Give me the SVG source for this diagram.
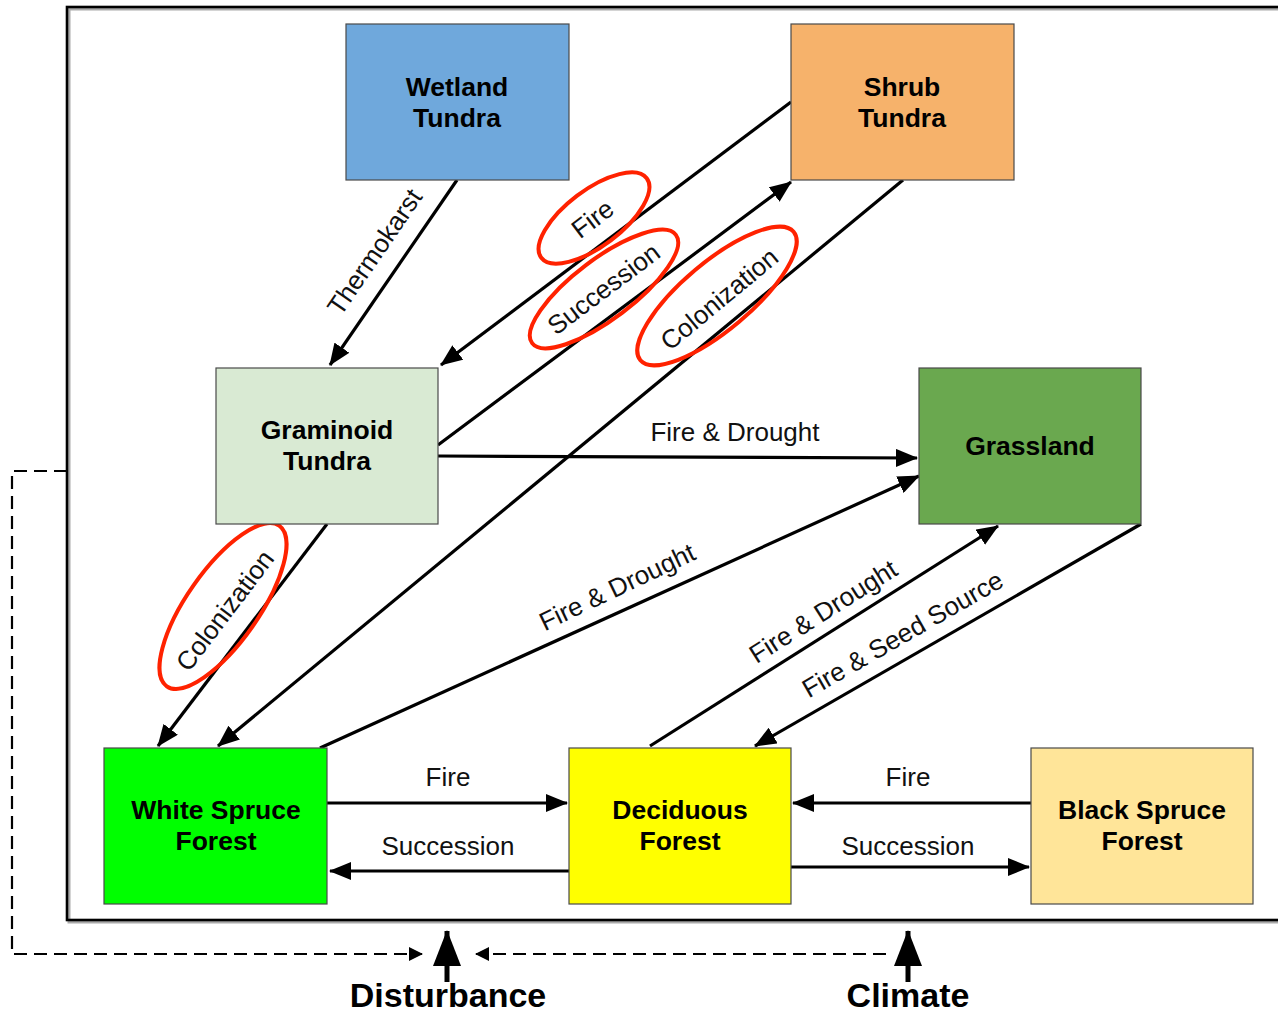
<svg xmlns="http://www.w3.org/2000/svg" width="1278" height="1013" viewBox="0 0 1278 1013">
<defs>
<marker id="ah" markerUnits="userSpaceOnUse" markerWidth="22" markerHeight="18" viewBox="0 0 22 18" refX="21" refY="9" orient="auto">
<path d="M0,0 L22,9 L0,18 z" fill="#000"/>
</marker>
<marker id="ahs" markerUnits="userSpaceOnUse" markerWidth="14" markerHeight="14" viewBox="0 0 14 14" refX="13" refY="7" orient="auto">
<path d="M0,0 L14,7 L0,14 z" fill="#000"/>
</marker>
<marker id="ahb" markerUnits="userSpaceOnUse" markerWidth="36" markerHeight="28" viewBox="0 0 36 28" refX="35" refY="14" orient="auto">
<path d="M0,0 L36,14 L0,28 z" fill="#000"/>
</marker>
</defs>
<style>
.box{stroke:#4a4a4a;stroke-width:1.2}
.nt{font-family:"Liberation Sans",Arial,sans-serif;font-weight:bold;font-size:26.5px;fill:#000;text-anchor:middle}
.lb{font-family:"Liberation Sans",Arial,sans-serif;font-size:26px;fill:#111;text-anchor:middle}
.big{font-family:"Liberation Sans",Arial,sans-serif;font-weight:bold;font-size:34px;fill:#000;text-anchor:middle}
.c{stroke:#000;stroke-width:3.2;fill:none;marker-end:url(#ah)}
.d{stroke:#000;stroke-width:2.2;fill:none;stroke-dasharray:13 7}
.ring{stroke:#ff2200;stroke-width:4;fill:none}
</style>
<rect x="0" y="0" width="1278" height="1013" fill="#fff"/>
<rect x="69" y="9" width="1230" height="913" fill="none" stroke="#aaa" stroke-width="3"/>
<rect x="67" y="7" width="1230" height="913" fill="none" stroke="#000" stroke-width="2.6"/>

<g id="connectors">
<line class="c" x1="457" y1="180" x2="330" y2="365"/>
<line class="c" x1="791" y1="102" x2="441" y2="365"/>
<line class="c" x1="438" y1="445" x2="791" y2="182"/>
<line class="c" x1="903" y1="180" x2="218" y2="746"/>
<line class="c" x1="438" y1="456" x2="917" y2="458"/>
<line class="c" x1="320" y1="748" x2="919" y2="476"/>
<line class="c" x1="650" y1="746" x2="998" y2="526"/>
<line class="c" x1="1141" y1="524" x2="755" y2="746"/>
<line class="c" x1="327" y1="524" x2="158" y2="746"/>
<line class="c" x1="327" y1="803" x2="567" y2="803"/>
<line class="c" x1="569" y1="871" x2="330" y2="871"/>
<line class="c" x1="1031" y1="803" x2="793" y2="803"/>
<line class="c" x1="791" y1="867" x2="1029" y2="867"/>
<path class="d" d="M67,471 H12 V954 H422" marker-end="url(#ahs)"/>
<path class="d" d="M886,954 H476" marker-end="url(#ahs)"/>
<line stroke="#000" stroke-width="5" x1="447" y1="982" x2="447" y2="931" marker-end="url(#ahb)"/>
<line stroke="#000" stroke-width="5" x1="908" y1="982" x2="908" y2="931" marker-end="url(#ahb)"/>

<text class="lb" transform="translate(382,257) rotate(-55.5)">Thermokarst</text>
<text class="lb" transform="translate(598,226) rotate(-37)">Fire</text>
<text class="lb" transform="translate(609,296) rotate(-37)">Succession</text>
<text class="lb" transform="translate(725,306) rotate(-39.6)">Colonization</text>
<text class="lb" transform="translate(232,616) rotate(-52.7)">Colonization</text>
<text class="lb" x="735" y="441">Fire &amp; Drought</text>
<text class="lb" transform="translate(621,595) rotate(-25.5)">Fire &amp; Drought</text>
<text class="lb" transform="translate(828,619) rotate(-32.3)">Fire &amp; Drought</text>
<text class="lb" transform="translate(907,642) rotate(-29.9)">Fire &amp; Seed Source</text>
<text class="lb" x="448" y="786">Fire</text>
<text class="lb" x="448" y="855">Succession</text>
<text class="lb" x="908" y="786">Fire</text>
<text class="lb" x="908" y="855">Succession</text>

<ellipse class="ring" cx="594" cy="218" rx="66" ry="28" transform="rotate(-37 594 218)"/>
<ellipse class="ring" cx="604" cy="289" rx="90" ry="30" transform="rotate(-37 604 289)"/>
<ellipse class="ring" cx="717" cy="296" rx="100" ry="34" transform="rotate(-40 717 296)"/>
<ellipse class="ring" cx="223" cy="606" rx="98" ry="36" transform="rotate(-55 223 606)"/>
</g>

<g id="wetland">
<rect class="box" x="346" y="24" width="223" height="156" fill="#6fa8dc"/>
<text class="nt" x="457" y="96">Wetland</text>
<text class="nt" x="457" y="127">Tundra</text>
</g>
<g id="shrub">
<rect class="box" x="791" y="24" width="223" height="156" fill="#f6b26b"/>
<text class="nt" x="902" y="96">Shrub</text>
<text class="nt" x="902" y="127">Tundra</text>
</g>
<g id="graminoid">
<rect class="box" x="216" y="368" width="222" height="156" fill="#d9ead3"/>
<text class="nt" x="327" y="439">Graminoid</text>
<text class="nt" x="327" y="470">Tundra</text>
</g>
<g id="grassland">
<rect class="box" x="919" y="368" width="222" height="156" fill="#6aa84f"/>
<text class="nt" x="1030" y="455">Grassland</text>
</g>
<g id="whitespruce">
<rect class="box" x="104" y="748" width="223" height="156" fill="#00ff00"/>
<text class="nt" x="216" y="819">White Spruce</text>
<text class="nt" x="216" y="850">Forest</text>
</g>
<g id="deciduous">
<rect class="box" x="569" y="748" width="222" height="156" fill="#ffff00"/>
<text class="nt" x="680" y="819">Deciduous</text>
<text class="nt" x="680" y="850">Forest</text>
</g>
<g id="blackspruce">
<rect class="box" x="1031" y="748" width="222" height="156" fill="#ffe599"/>
<text class="nt" x="1142" y="819">Black Spruce</text>
<text class="nt" x="1142" y="850">Forest</text>
</g>
<g id="labels">
<text class="big" x="448" y="1007">Disturbance</text>
<text class="big" x="908" y="1007">Climate</text>
</g>
</svg>
